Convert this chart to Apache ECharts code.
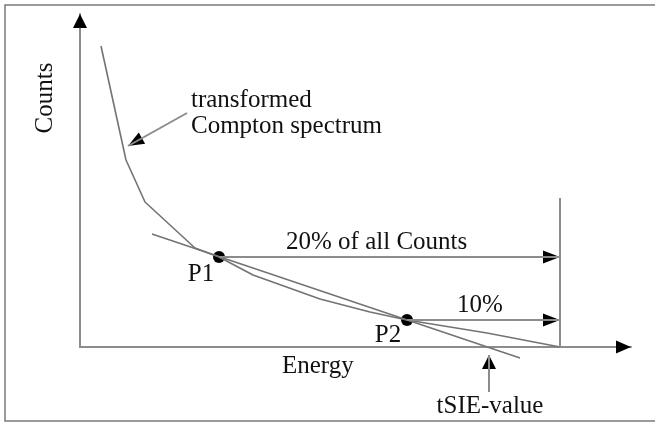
<!DOCTYPE html>
<html>
<head>
<meta charset="utf-8">
<title>tSIE-value</title>
<script src="https://cdn.jsdelivr.net/npm/echarts@6/dist/echarts.min.js"></script>
<style>
  html, body { margin: 0; padding: 0; background: #fff; }
  #chart { width: 655px; height: 422px; }
</style>
</head>
<body>
<div id="chart"></div>
<script>
// spectrum (energy in channels, counts in arbitrary units)
const energy = [21, 46, 65, 115, 139, 173, 240, 290, 327, 407, 480];
const counts = [301, 187, 145, 99, 90, 72, 48, 35, 27, 14, 0];

const p1 = [139, 90];
const p2 = [327, 27];
const fitLine = [[72, 113], [440, -11]];
const edge = [[480, 0], [480, 149]];
const tsie = 409;

const xMax = 551;
const yMax = 333;

// arrows: [from, to]
const arrows = [
  [p1, [480, 90]],
  [p2, [480, 27]],
  [[tsie, -45], [tsie, -8]],
  [[107, 234], [48, 201]]
];

const font = "Liberation Serif";
const lineColor = "#737373";
const textColor = "#111";

function txt(text, x, y, align, rot) {
  return {
    type: "text",
    x: x,
    y: y,
    rotation: rot || 0,
    style: {
      text: text,
      fontFamily: font,
      fontSize: 25,
      fill: textColor,
      align: align || "left",
      verticalAlign: "middle"
    }
  };
}

// arrowhead: tip at the point, pointing along (to - from)
function head(from, to, w, h) {
  var dx = to[0] - from[0];
  var dy = to[1] - from[1];
  var sx = dx / xMax * 551;
  var sy = -dy / yMax * 333;
  var len = Math.sqrt(sx * sx + sy * sy);
  var ux = sx / len, uy = sy / len;
  var rot = Math.atan2(-ux, -uy) * 180 / Math.PI;
  return {
    value: to,
    symbolSize: [w, h],
    symbolRotate: rot,
    symbolOffset: [-ux * h / 2, -uy * h / 2]
  };
}

const heads = [
  head([0, 0], [xMax, 0], 13, 15),
  head([0, 0], [0, yMax], 14, 14),
  head(arrows[0][0], arrows[0][1], 13, 17),
  head(arrows[1][0], arrows[1][1], 13, 17),
  head(arrows[2][0], arrows[2][1], 14, 14),
  head(arrows[3][0], arrows[3][1], 13, 16)
];

const chart = echarts.init(document.getElementById("chart"));

const series = [
  {
    name: "spectrum",
    type: "line",
    data: energy.map(function (e, i) { return [e, counts[i]]; }),
    showSymbol: false,
    clip: false,
    lineStyle: { color: lineColor, width: 1.6 }
  },
  {
    name: "fit",
    type: "line",
    data: fitLine,
    showSymbol: false,
    clip: false,
    lineStyle: { color: lineColor, width: 1.6 }
  },
  {
    name: "edge",
    type: "line",
    data: edge,
    showSymbol: false,
    clip: false,
    lineStyle: { color: "#8c8c8c", width: 2 }
  }
];

arrows.forEach(function (a) {
  series.push({
    type: "line",
    data: a,
    showSymbol: false,
    clip: false,
    lineStyle: { color: "#8c8c8c", width: 2 }
  });
});

series.push({
  name: "heads",
  type: "scatter",
  symbol: "triangle",
  clip: false,
  itemStyle: { color: "#000", opacity: 1 },
  data: heads
});

series.push({
  name: "points",
  type: "scatter",
  symbol: "circle",
  symbolSize: 12,
  clip: false,
  itemStyle: { color: "#000", opacity: 1 },
  data: [p1, p2]
});

chart.setOption({
  animation: false,
  backgroundColor: "#fff",
  grid: { left: 80, right: 24, top: 14, bottom: 75 },
  xAxis: {
    type: "value",
    min: 0,
    max: xMax,
    axisLine: { lineStyle: { color: "#8c8c8c", width: 2 } },
    axisTick: { show: false },
    axisLabel: { show: false },
    splitLine: { show: false }
  },
  yAxis: {
    type: "value",
    min: 0,
    max: yMax,
    axisLine: { show: true, lineStyle: { color: "#8c8c8c", width: 2 } },
    axisTick: { show: false },
    axisLabel: { show: false },
    splitLine: { show: false }
  },
  graphic: [
    {
      type: "rect",
      shape: { x: 5, y: 5, width: 700, height: 416 },
      style: { fill: null, stroke: "#7a7a7a", lineWidth: 1.5 },
      silent: true
    },
    txt("Counts", 45, 98, "center", Math.PI / 2),
    txt("transformed", 191, 100),
    txt("Compton spectrum", 191, 126),
    txt("20% of all Counts", 286, 242),
    txt("P1", 201, 274, "center"),
    txt("P2", 388, 335, "center"),
    txt("10%", 480, 305, "center"),
    txt("Energy", 282, 366),
    txt("tSIE-value", 490, 406, "center")
  ],
  series: series
});
</script>
</body>
</html>
